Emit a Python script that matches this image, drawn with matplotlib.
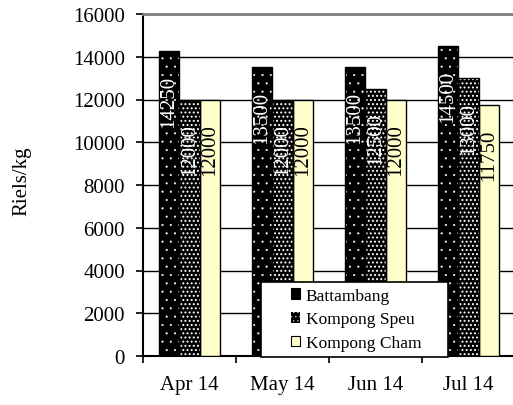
import matplotlib
matplotlib.use("Agg")
from matplotlib import pyplot as plt
from matplotlib.patches import Rectangle, Patch
import numpy as np

months = ["Apr 14", "May 14", "Jun 14", "Jul 14"]
battambang = [14250, 13500, 13500, 14500]
kompong_speu = [12000, 12000, 12500, 13000]
kompong_cham = [12000, 12000, 12000, 11750]
series_names = ["Battambang", "Kompong Speu", "Kompong Cham"]

plt.rcParams["font.family"] = ["Liberation Serif", "DejaVu Serif"]
plt.rcParams["hatch.linewidth"] = 0.3

fig = plt.figure(figsize=(5.13, 4.06), dpi=100)
ax = fig.add_axes([143 / 513, 49 / 406, 372 / 513, 342 / 406])

x = np.arange(len(months))
w = 0.22
styles = [
    dict(face="black", hatch_col="white", hatch="..", txt="white", hlw=0.3),
    dict(face="black", hatch_col="white", hatch="....", txt="white", hlw=0.9),
    dict(face="#ffffcc", hatch_col="black", hatch=None, txt="black", hlw=0.3),
]
data = [battambang, kompong_speu, kompong_cham]

handles = []
for i, (vals, st) in enumerate(zip(data, styles)):
    pos = x + (i - 1) * w
    with plt.rc_context({"hatch.linewidth": st["hlw"]}):
        ax.bar(pos, vals, w, color=st["face"], edgecolor=st["hatch_col"],
               hatch=st["hatch"], linewidth=0, zorder=3)
    ax.bar(pos, vals, w, fill=False, edgecolor="black", linewidth=1.0, zorder=3.5)
    for px, v in zip(pos, vals):
        ax.annotate(str(v), (px, v), xytext=(0, -17), textcoords="offset points",
                    rotation=90, ha="center", va="top", fontsize=15,
                    color=st["txt"], zorder=4)
    if i == 1:
        handles.append(Patch(facecolor="black", edgecolor="white", hatch="....", linewidth=0))
    else:
        handles.append(Patch(facecolor=st["face"], edgecolor="black", linewidth=0.8))

ax.set_xlim(-0.5, 3.5)
ax.set_ylim(0, 16000)
ax.set_yticks(np.arange(0, 16001, 2000))
ax.yaxis.grid(True, color="black", linewidth=1.0, zorder=1)
ax.set_axisbelow(True)

ax.set_xticks(x)
ax.set_xticklabels(months)
ax.set_xticks(np.arange(-0.5, 3.6, 1), minor=True)
ax.tick_params(axis="x", which="major", length=0, pad=14, labelsize=15)
ax.tick_params(axis="x", which="minor", length=5, width=1.2, direction="out")
ax.tick_params(axis="y", length=5, width=1.2, direction="out", pad=8, labelsize=15)

ax.spines["right"].set_visible(False)
ax.spines["top"].set_color("#808080")
ax.spines["top"].set_linewidth(2)
ax.spines["left"].set_linewidth(1.5)
ax.spines["bottom"].set_linewidth(1.5)

fig.text(22 / 513, 1 - 181 / 406, "Riels/kg", rotation=90, ha="center", va="center",
         fontsize=15)

box = Rectangle((261 / 513, 1 - 358 / 406), 187 / 513, 75 / 406,
                transform=fig.transFigure, facecolor="white", edgecolor="black",
                linewidth=1.2, zorder=6, clip_on=False)
ax.add_patch(box)
leg = ax.legend(handles, series_names, loc="center", frameon=False,
                bbox_to_anchor=((261 + 95) / 513, 1 - 320.5 / 406),
                bbox_transform=fig.transFigure, fontsize=12.5,
                handlelength=0.55, handleheight=0.55, handletextpad=0.3,
                labelspacing=0.45, borderpad=0.2)
leg.set_zorder(7)

fig.savefig("out.png", dpi=100)
